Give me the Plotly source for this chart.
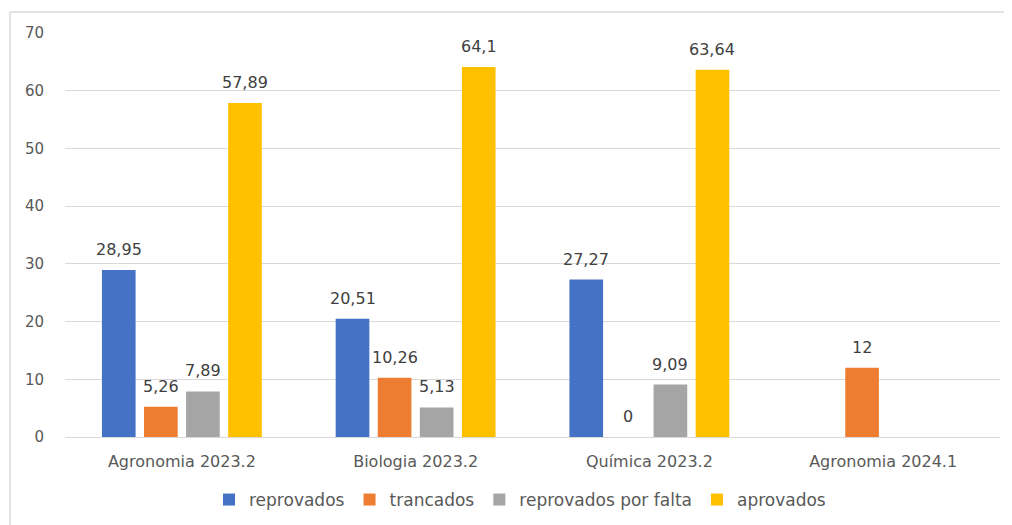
import plotly.graph_objects as go

categories = ["Agronomia 2023.2", "Biologia 2023.2", "Química 2023.2", "Agronomia 2024.1"]
reprovados = [28.95, 20.51, 27.27, None]
trancados = [5.26, 10.26, 0, 12]
reprovados_falta = [7.89, 5.13, 9.09, None]
aprovados = [57.89, 64.1, 63.64, None]

series = [
    ("reprovados", reprovados, "#4472C4"),
    ("trancados", trancados, "#ED7D31"),
    ("reprovados por falta", reprovados_falta, "#A5A5A5"),
    ("aprovados", aprovados, "#FFC000"),
]

def fmt(v):
    return ("%g" % v).replace(".", ",")

FONT = "DejaVu Sans"

# page body has an 8px offset; coordinates below are relative to the figure
W, H = 1012, 525
ml, mt = 57, 25
pw, ph = 935, 404
mr = W - ml - pw
mb = H - mt - ph
BARGAP = 0.28
slot = pw / len(categories) * (1 - BARGAP) / len(series)

fig = go.Figure()
annotations = []
for i, (name, vals, col) in enumerate(series):
    fig.add_trace(go.Bar(
        name=name, x=categories, y=vals, marker_color=col, marker_line_width=0,
    ))
    for cat, v in zip(categories, vals):
        if v is None:
            continue
        annotations.append(dict(
            x=cat, y=v, xref="x", yref="y", text=fmt(v), showarrow=False,
            xanchor="center", yanchor="bottom", xshift=(i - (len(series) - 1) / 2) * slot,
            yshift=9, font=dict(size=16, color="#404040", family=FONT),
        ))

fig.update_layout(
    width=W, height=H,
    margin=dict(l=ml, r=mr, t=mt, b=mb),
    paper_bgcolor="white", plot_bgcolor="white",
    font=dict(family=FONT, color="#595959", size=15),
    barmode="group", bargap=BARGAP, bargroupgap=0.2,
    showlegend=True,
    legend=dict(orientation="h", x=(512 - ml) / pw, xanchor="center", y=-63 / ph,
                yanchor="middle", font=dict(size=17, color="#595959", family=FONT),
                itemwidth=30, traceorder="normal"),
    xaxis=dict(showgrid=False, showline=True, linecolor="#D9D9D9", linewidth=1,
               ticks="", tickfont=dict(size=16, color="#595959"), ticklabelstandoff=10),
    yaxis=dict(range=[0, 70], dtick=10, showgrid=True, gridcolor="#D9D9D9", gridwidth=1,
               zeroline=False, showline=False, ticks="", ticklabelstandoff=20,
               tickfont=dict(size=15, color="#595959")),
    annotations=annotations,
    shapes=[
        dict(type="line", xref="paper", yref="paper",
             x0=(2 - ml) / pw, x1=(2 - ml) / pw, y0=(mt - 4) / ph + 1, y1=-(H - mt - ph) / ph,
             line=dict(color="#D9D9D9", width=1.5)),
        dict(type="line", xref="paper", yref="paper",
             x0=(2 - ml) / pw, x1=(W - ml) / pw, y0=(mt - 4) / ph + 1, y1=(mt - 4) / ph + 1,
             line=dict(color="#D9D9D9", width=1.5)),
    ],
)

fig.write_html("out.html")
